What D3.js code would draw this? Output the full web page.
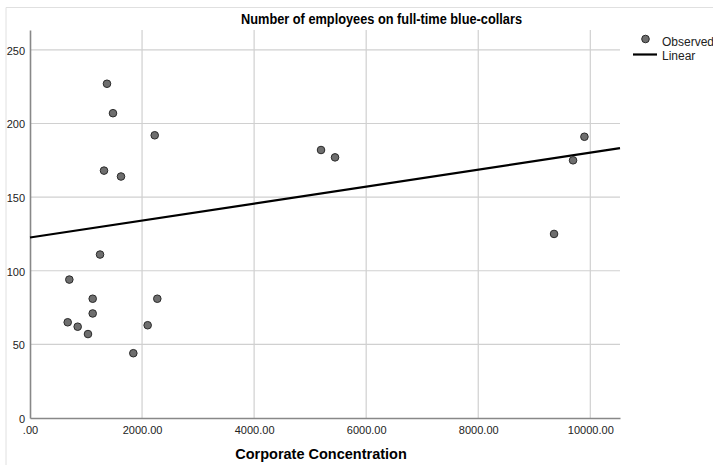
<!DOCTYPE html>
<html>
<head>
<meta charset="utf-8">
<script src="https://cdn.jsdelivr.net/npm/d3@7"></script>
<style>
  body { margin: 0; background: #fff; }
  text { font-family: "Liberation Sans", Arial, sans-serif; }
</style>
</head>
<body>
<svg width="713" height="465"></svg>
<script>
// observed points
const concentration = [1374, 1481, 2226, 1321, 1624, 1250, 702, 1119, 1119, 673, 851, 1035, 1844, 2100, 2272, 5194, 5444, 9353, 9692, 9895];
const employees = [227, 207, 192, 168, 164, 111, 94, 81, 71, 65, 62, 57, 44, 63, 81, 182, 177, 125, 175, 191];

// linear fit (intercept, slope) as drawn
const fitIntercept = 122.6;
const fitSlope = 0.00576;

const xTicks = [0, 2000, 4000, 6000, 8000, 10000];
const yTicks = [0, 50, 100, 150, 200, 250];

const width = 713;
const height = 465;
const margin = { left: 30, right: 93, top: 30, bottom: 47 };

const svg = d3.select("svg");

const x = d3.scaleLinear().domain([0, 10530]).range([margin.left, width - margin.right]);
const y = d3.scaleLinear().domain([0, 263.5]).range([height - margin.bottom, margin.top]);

// outer frame
svg.append("path")
  .attr("d", `M6,${height}V7.5H${width}`)
  .attr("fill", "none")
  .attr("stroke", "#e0e0e0");

// gridlines
const grid = svg.append("g").attr("stroke", "#d0d0d0").attr("stroke-width", 1.2);
grid.selectAll("line.v")
  .data(xTicks.filter((d) => d > 0))
  .join("line")
  .attr("x1", (d) => x(d)).attr("x2", (d) => x(d))
  .attr("y1", y.range()[0]).attr("y2", y.range()[1]);
grid.selectAll("line.h")
  .data(yTicks.filter((d) => d > 0))
  .join("line")
  .attr("x1", x.range()[0]).attr("x2", x.range()[1])
  .attr("y1", (d) => y(d)).attr("y2", (d) => y(d));

// axes
const xAxis = svg.append("g")
  .attr("transform", `translate(0,${y(0)})`)
  .call(d3.axisBottom(x).tickValues(xTicks).tickSize(0).tickPadding(8)
    .tickFormat((d) => d === 0 ? ".00" : d3.format(".2f")(d)));
const yAxis = svg.append("g")
  .attr("transform", `translate(${x(0)},0)`)
  .call(d3.axisLeft(y).tickValues(yTicks).tickSize(0).tickPadding(5));

[xAxis, yAxis].forEach((g) => {
  g.select(".domain").attr("stroke", "#888").attr("stroke-width", 1.6);
  g.selectAll("text").attr("font-size", 11).attr("fill", "#222")
    .style("font-family", "'Liberation Sans', Arial, sans-serif");
});
yAxis.selectAll("text").attr("dy", "0.4em");

// fit line
svg.append("line")
  .attr("x1", x(0)).attr("y1", y(fitIntercept))
  .attr("x2", x(x.domain()[1])).attr("y2", y(fitIntercept + fitSlope * x.domain()[1]))
  .attr("stroke", "#000")
  .attr("stroke-width", 2.2);

// points
svg.append("g")
  .selectAll("circle")
  .data(concentration)
  .join("circle")
  .attr("cx", (d) => x(d))
  .attr("cy", (d, i) => y(employees[i]))
  .attr("r", 3.8)
  .attr("fill", "#6e6e6e")
  .attr("stroke", "#2a2a2a")
  .attr("stroke-width", 1);

// title and axis label
svg.append("text")
  .attr("x", 241).attr("y", 23.5)
  .attr("font-size", 14.5).attr("font-weight", "bold")
  .attr("textLength", 281).attr("lengthAdjust", "spacingAndGlyphs")
  .text("Number of employees on full-time blue-collars");

svg.append("text")
  .attr("x", 321).attr("y", 459)
  .attr("text-anchor", "middle")
  .attr("font-size", 14.5).attr("font-weight", "bold")
  .text("Corporate Concentration");

// legend
const legend = svg.append("g");
legend.append("circle")
  .attr("cx", 645.5).attr("cy", 39).attr("r", 3.8)
  .attr("fill", "#6e6e6e").attr("stroke", "#2a2a2a");
legend.append("text")
  .attr("x", 662).attr("y", 46).attr("font-size", 12).attr("fill", "#222")
  .text("Observed");
legend.append("line")
  .attr("x1", 633).attr("x2", 657).attr("y1", 54.5).attr("y2", 54.5)
  .attr("stroke", "#000").attr("stroke-width", 2.2);
legend.append("text")
  .attr("x", 662).attr("y", 60).attr("font-size", 12).attr("fill", "#222")
  .text("Linear");
</script>
</body>
</html>
